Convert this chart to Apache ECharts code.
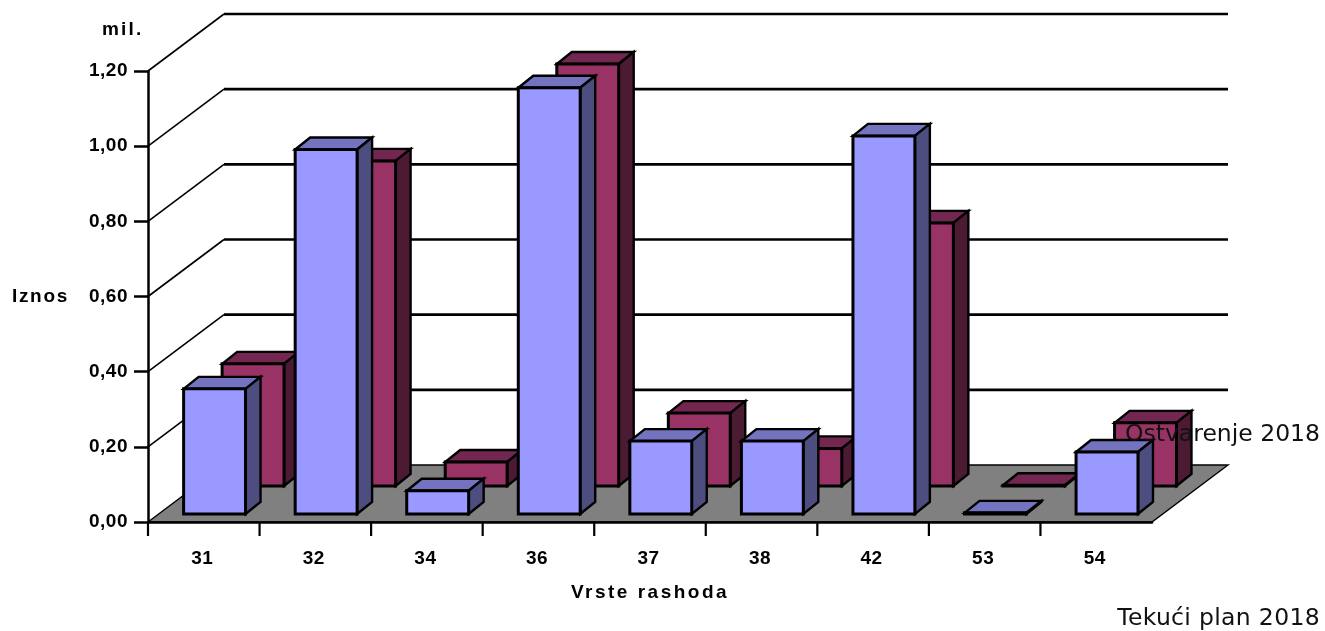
<!DOCTYPE html>
<html><head><meta charset="utf-8">
<style>html,body{margin:0;padding:0;background:#fff}#c{width:1325px;height:631px}</style>
<script src="https://cdn.jsdelivr.net/npm/echarts@6/dist/echarts.min.js"></script>
</head><body><div id="c"></div>
<script>
const categories = ['31','32','34','36','37','38','42','53','54'];
const ostvarenje = [0.333,0.97,0.062,1.134,0.194,0.194,1.006,0.003,0.165];
const tekuciPlan = [0.325,0.865,0.064,1.123,0.194,0.10,0.70,0.002,0.168];
const wallTicks = [0.2,0.4,0.6,0.8,1.0,1.2];

// wider tracking of the original's bold labels
const tracking = {'Vrste rashoda':'2.5px','Iznos':'1.7px','mil.':'2.2px','Ostvarenje 2018':'0px','Tekući plan 2018':'0.33px'};
const rawFill = CanvasRenderingContext2D.prototype.fillText;
CanvasRenderingContext2D.prototype.fillText = function(t,x,y,m){
  this.letterSpacing = tracking[t] !== undefined ? tracking[t] : '0.5px';
  return m === undefined ? rawFill.call(this,t,x,y) : rawFill.call(this,t,x,y,m);
};

const DEPTH_X = 76, DEPTH_Y = -57;
const labelFont = {fontFamily:'Liberation Sans',fontWeight:'bold',fontSize:19,color:'#000'};
const legendFont = {fontFamily:'DejaVu Sans',fontSize:23.5,color:'#111'};

function poly(points, fill, lw){
  return {type:'polygon',shape:{points},style:{fill,stroke:'#000',lineWidth:lw===undefined?2.4:lw,lineJoin:'miter'}};
}
function bar3d(colors, shiftX, shiftY){
  return function(params, api){
    const i = api.value(0), v = api.value(1);
    const w = api.size([1,0])[0]*0.555;
    const cx = api.coord([i,0])[0]+shiftX;
    const base = api.coord([i,0])[1]+shiftY;
    const top = api.coord([i,v])[1]+shiftY;
    const l = cx-w/2, r = cx+w/2, dx = 15, dy = -12;
    return {type:'group',children:[
      poly([[l,top],[l+dx,top+dy],[r+dx,top+dy],[r,top]],colors[1]),
      poly([[r,top],[r+dx,top+dy],[r+dx,base+dy],[r,base]],colors[2]),
      poly([[l,top],[r,top],[r,base],[l,base]],colors[0],3)
    ]};
  };
}
const option = {
  animation:false,
  backgroundColor:'#fff',
  grid:{left:148,right:173,top:71,bottom:109,outerBoundsMode:'none'},
  legend:[
    {orient:'vertical',right:0,top:423,padding:0,icon:'none',itemWidth:0,itemHeight:14,align:'right',selectedMode:false,z:20,
     data:['Ostvarenje 2018'],textStyle:legendFont},
    {orient:'vertical',right:0,top:607,padding:0,icon:'none',itemWidth:0,itemHeight:14,align:'right',selectedMode:false,z:20,
     data:['Tekući plan 2018'],textStyle:legendFont}
  ],
  graphic:[{type:'text',left:102,top:20,z:20,style:{text:'mil.',font:'bold 19px "Liberation Sans"',fill:'#000'}}],
  xAxis:{
    type:'category',data:categories,z:10,
    name:'Vrste rashoda',nameLocation:'middle',nameGap:61,
    nameTextStyle:labelFont,
    axisLine:{lineStyle:{color:'#000',width:2.5}},
    axisTick:{show:false},
    axisLabel:Object.assign({margin:27,padding:[0,3,0,0]},labelFont)
  },
  yAxis:{
    type:'value',min:0,max:1.2,interval:0.2,z:10,
    name:'Iznos',nameLocation:'middle',nameGap:79,nameRotate:0,
    nameTextStyle:labelFont,
    splitLine:{show:false},
    axisLine:{show:true,lineStyle:{color:'#000',width:2.5}},
    axisTick:{show:true,length:14,lineStyle:{color:'#000',width:2.5}},
    axisLabel:Object.assign({margin:20,formatter:v=>v.toFixed(2).replace('.',',')},labelFont)
  },
  series:[
    {name:'walls',type:'custom',z:1,silent:true,clip:false,data:wallTicks.map(v=>[v]),
     encode:{y:0},
     renderItem(p,api){
       const v = api.value(0);
       const a = api.coord([0,v]); const x0 = p.coordSys.x, x1 = x0+p.coordSys.width;
       const y = a[1], bx = x0+DEPTH_X, by = y+DEPTH_Y;
       return {type:'group',children:[
         {type:'line',shape:{x1:x0,y1:y,x2:bx,y2:by},style:{stroke:'#000',lineWidth:1.6}},
         {type:'line',shape:{x1:bx,y1:by,x2:x1+DEPTH_X,y2:by},style:{stroke:'#000',lineWidth:2.6}}
       ]};
     }},
    {name:'floor',type:'custom',z:2,silent:true,clip:false,data:[[0]],
     encode:{y:0},
     renderItem(p,api){
       const y = api.coord([0,0])[1]; const x0 = p.coordSys.x, x1 = x0+p.coordSys.width;
       return poly([[x0,y],[x0+DEPTH_X,y+DEPTH_Y],[x1+DEPTH_X,y+DEPTH_Y],[x1,y]],'#808080',1.4);
     }},
    {name:'ticks',type:'custom',z:2,silent:true,clip:false,data:categories.map((c,i)=>[i]),
     encode:{x:0},
     renderItem(p,api){
       const i = api.value(0), w = api.size([1,0])[0];
       const a = api.coord([i,0]);
       const x = a[0]-w/2;
       return {type:'line',shape:{x1:x,y1:a[1],x2:x,y2:a[1]+14},style:{stroke:'#000',lineWidth:2.2}};
     }},
    {name:'Tekući plan 2018',type:'custom',z:3,clip:false,silent:true,
     itemStyle:{color:'#993366'},
     data:categories.map((c,i)=>[i,tekuciPlan[i]]),encode:{x:0,y:1},
     renderItem:bar3d(['#993366','#732650','#4D1A33'],49.3,-36)},
    {name:'Ostvarenje 2018',type:'custom',z:4,clip:false,silent:true,
     itemStyle:{color:'#9999FF'},
     data:categories.map((c,i)=>[i,ostvarenje[i]]),encode:{x:0,y:1},
     renderItem:bar3d(['#9999FF','#7373BF','#4D4D80'],10.8,-8)}
  ]
};
echarts.init(document.getElementById('c'),null,{renderer:'canvas'}).setOption(option);
</script></body></html>
